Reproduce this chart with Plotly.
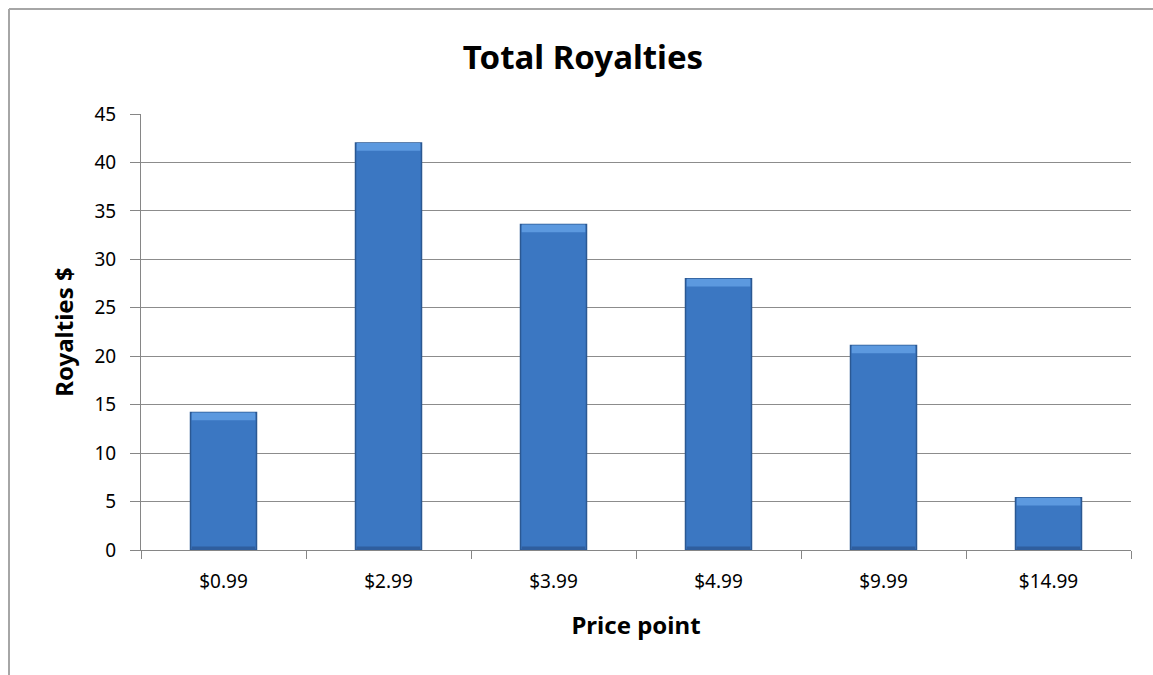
import plotly.graph_objects as go

# Royalty totals by price point
price_points = ["$0.99", "$2.99", "$3.99", "$4.99", "$9.99", "$14.99"]
royalties = [14.2, 42.0, 33.6, 28.0, 21.1, 5.4]
y_ticks = [0, 5, 10, 15, 20, 25, 30, 35, 40, 45]

W, H = 1153, 675
L, R, T, B = 141, 22, 114, 125

bevel = 0.8   # depth of the lighter band along each bar's top, in data units
shade = 0.35  # depth of the darker band along each bar's foot

fig = go.Figure()

# main bar bodies
fig.add_trace(go.Bar(
    x=price_points, y=royalties,
    marker=dict(color="#3B77C2", line=dict(color="#2B5892", width=1.5)),
    width=0.4, hoverinfo="x+y", showlegend=False,
))
# lighter bevel band at the top of each bar
fig.add_trace(go.Bar(
    x=price_points,
    y=[bevel] * len(royalties),
    base=[v - bevel for v in royalties],
    marker=dict(color="#5C99DF", line=dict(width=0)),
    width=0.385, hoverinfo="skip", showlegend=False,
))
# darker band at the foot of each bar
fig.add_trace(go.Bar(
    x=price_points,
    y=[shade] * len(royalties),
    marker=dict(color="#2F5E9E", line=dict(width=0)),
    width=0.385, hoverinfo="skip", showlegend=False,
))

font_family = "Noto Sans, Open Sans, DejaVu Sans, sans-serif"

fig.update_layout(
    width=W, height=H,
    margin=dict(l=L, r=R, t=T, b=B),
    paper_bgcolor="white", plot_bgcolor="white",
    barmode="overlay",
    font=dict(family=font_family, color="#000000", size=18),
    title=dict(
        text="<b>Total Royalties</b>",
        x=583 / W, xanchor="center",
        y=1 - 57 / H, yanchor="middle",
        font=dict(size=33, family=font_family, color="#000000"),
    ),
    xaxis=dict(
        type="category",
        showgrid=False,
        showline=True, linecolor="#868686", linewidth=1,
        ticks="outside", tickson="boundaries", ticklen=8,
        tickcolor="#868686", tickwidth=1,
        tickfont=dict(size=19, color="#000000"),
        ticklabelstandoff=14,
        title=dict(text="<b>Price point</b>", font=dict(size=24), standoff=24),
        range=[-0.5, 5.5],
    ),
    yaxis=dict(
        range=[0, 45],
        tickvals=y_ticks,
        showgrid=True, gridcolor="#8C8C8C", gridwidth=1,
        showline=True, linecolor="#868686", linewidth=1,
        ticks="outside", ticklen=10, tickcolor="#868686", tickwidth=1,
        tickfont=dict(size=19, color="#000000"),
        ticklabelstandoff=10,
        title=dict(text="<b>Royalties $</b>", font=dict(size=24), standoff=14),
        zeroline=False,
    ),
    shapes=[
        # chart-area frame: top and left edges
        dict(type="line", xref="paper", yref="paper",
             x0=(9 - L) / (W - L - R), x1=(W - L) / (W - L - R),
             y0=1 + (T - 9) / (H - T - B), y1=1 + (T - 9) / (H - T - B),
             line=dict(color="#A6A6A6", width=2)),
        dict(type="line", xref="paper", yref="paper",
             x0=(9 - L) / (W - L - R), x1=(9 - L) / (W - L - R),
             y0=1 + (T - 9) / (H - T - B), y1=-B / (H - T - B),
             line=dict(color="#A6A6A6", width=2)),
    ],
)

fig.write_html("out.html")
